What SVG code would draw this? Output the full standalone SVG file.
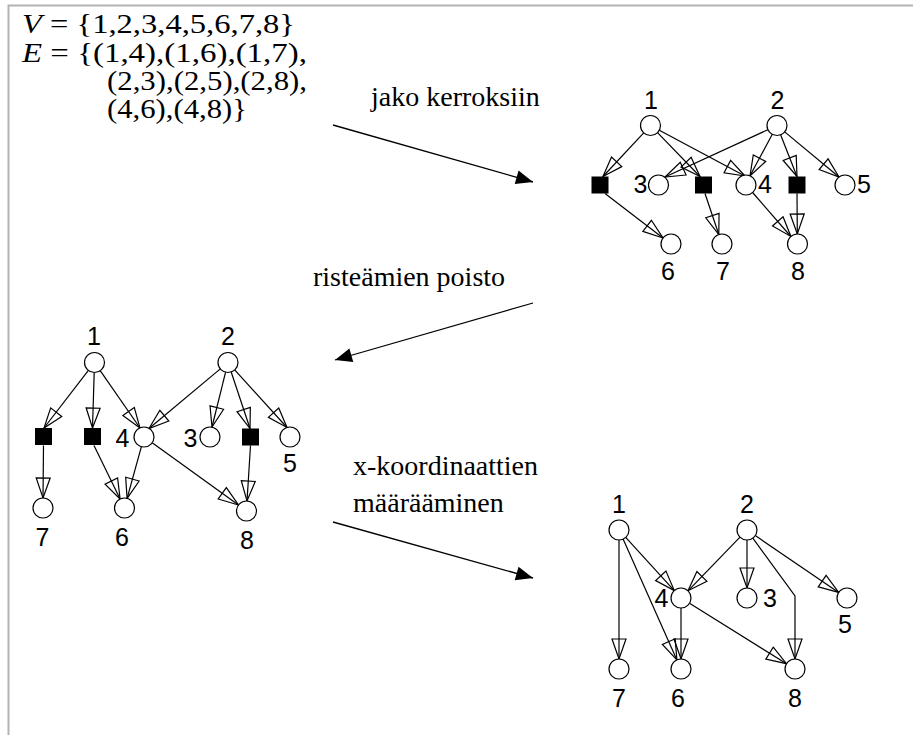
<svg xmlns="http://www.w3.org/2000/svg" width="913" height="735" viewBox="0 0 913 735">
<style>
.bg{fill:#ffffff}
.frame{stroke:#b4b4b4;stroke-width:2;fill:none}
.n{fill:#ffffff;stroke:#000;stroke-width:1.2}
.d{fill:#000}
.lbl{font-family:"Liberation Sans",Arial,sans-serif;font-size:25px;fill:#000;text-anchor:middle}
.ser{font-family:"Liberation Serif","Times New Roman",serif;font-size:28px;fill:#000}
.e{stroke:#000;stroke-width:1.2;fill:none;marker-end:url(#open)}
.big{stroke:#000;stroke-width:1.3;fill:none;marker-end:url(#solid)}
</style>
<defs>
<marker id="open" markerUnits="userSpaceOnUse" viewBox="-1 -1 23 16" markerWidth="23" markerHeight="16" refX="20" refY="7" orient="auto" overflow="visible">
<path d="M0,0 L20,7 L0,14 Z" fill="none" stroke="#000" stroke-width="1.2"/>
</marker>
<marker id="solid" markerUnits="userSpaceOnUse" viewBox="-1 -1 20 16" markerWidth="20" markerHeight="16" refX="17" refY="7" orient="auto" overflow="visible">
<path d="M0,0 L17,7 L0,14 Z" fill="#000"/>
</marker>
</defs>
<rect class="bg" x="0" y="0" width="913" height="735"/>
<path class="frame" d="M8.5,735 L8.5,5.5 L913,5.5"/>

<g id="definitions">
<text class="ser" x="22" y="33" textLength="273" lengthAdjust="spacingAndGlyphs"><tspan font-style="italic">V</tspan> = {1,2,3,4,5,6,7,8}</text>
<text class="ser" x="22" y="62" textLength="285" lengthAdjust="spacingAndGlyphs"><tspan font-style="italic">E</tspan> = {(1,4),(1,6),(1,7),</text>
<text class="ser" x="107" y="90" textLength="200" lengthAdjust="spacingAndGlyphs">(2,3),(2,5),(2,8),</text>
<text class="ser" x="107" y="118" textLength="140" lengthAdjust="spacingAndGlyphs">(4,6),(4,8)}</text>
</g>

<g id="step-labels">
<text class="ser" x="371" y="106">jako kerroksiin</text>
<text class="ser" x="313" y="286">risteämien poisto</text>
<text class="ser" x="353" y="475">x-koordinaattien</text>
<text class="ser" x="353" y="512">määrääminen</text>
</g>

<g id="connectors">
<!-- big step arrows -->
<line class="big" x1="333" y1="125" x2="533" y2="182"/>
<line class="big" x1="533" y1="303" x2="335" y2="360"/>
<line class="big" x1="333" y1="522" x2="533" y2="578"/>

<!-- graph 1 -->
<line class="e" x1="643.7" y1="132.8" x2="603" y2="176.5"/>
<line class="e" x1="657.5" y1="132.7" x2="700" y2="176.5"/>
<line class="e" x1="659.3" y1="130.2" x2="745" y2="176"/>
<line class="e" x1="767.9" y1="129.7" x2="665" y2="177"/>
<line class="e" x1="772.3" y1="134.3" x2="750" y2="175.8"/>
<line class="e" x1="780.6" y1="134.8" x2="797" y2="176.5"/>
<line class="e" x1="784.7" y1="131.9" x2="839" y2="177"/>
<line class="e" x1="605" y1="193.5" x2="663" y2="238"/>
<line class="e" x1="705" y1="193.5" x2="718.8" y2="234.5"/>
<line class="e" x1="752.6" y1="192.5" x2="790.9" y2="236.5"/>
<line class="e" x1="797" y1="193.5" x2="797.3" y2="234"/>

<!-- graph 2 -->
<line class="e" x1="88.4" y1="370.4" x2="44" y2="428"/>
<line class="e" x1="94.2" y1="372.5" x2="92.5" y2="428"/>
<line class="e" x1="100.2" y1="370.7" x2="140" y2="428"/>
<line class="e" x1="220.3" y1="368.9" x2="149" y2="428.5"/>
<line class="e" x1="225.6" y1="372.2" x2="212" y2="427"/>
<line class="e" x1="231.2" y1="372" x2="250" y2="428.5"/>
<line class="e" x1="234.7" y1="369.9" x2="287" y2="427.5"/>
<line class="e" x1="43.5" y1="445.5" x2="43" y2="498"/>
<line class="e" x1="94" y1="445.5" x2="120.1" y2="499"/>
<line class="e" x1="141.4" y1="446.6" x2="127.1" y2="498.4"/>
<line class="e" x1="152.2" y1="442.8" x2="238.5" y2="505"/>
<line class="e" x1="250.5" y1="445.5" x2="247" y2="501"/>

<!-- graph 3 -->
<line class="e" x1="619" y1="540" x2="619" y2="659"/>
<line class="e" x1="623.1" y1="539.1" x2="676.9" y2="659.9"/>
<line class="e" x1="625.7" y1="537.4" x2="674.3" y2="590.6"/>
<line class="e" x1="740" y1="537.2" x2="688" y2="590.8"/>
<line class="e" x1="747" y1="540" x2="747" y2="588"/>
<polyline class="e" points="752.8,538.2 795,596 795,659"/>
<line class="e" x1="755.3" y1="535.6" x2="838.7" y2="592.4"/>
<line class="e" x1="681" y1="608" x2="681" y2="659"/>
<line class="e" x1="689.5" y1="603.3" x2="786.5" y2="663.7"/>
</g>

<!-- graph 1 nodes -->
<g id="g1-n1"><circle class="n" cx="650.5" cy="125.5" r="10"/><text class="lbl" x="651" y="109">1</text></g>
<g id="g1-n2"><circle class="n" cx="777" cy="125.5" r="10"/><text class="lbl" x="777.5" y="109">2</text></g>
<g id="g1-d1"><rect class="d" x="591.5" y="176.5" width="17" height="17"/></g>
<g id="g1-n3"><circle class="n" cx="658.5" cy="185" r="10"/><text class="lbl" x="640.5" y="193">3</text></g>
<g id="g1-d2"><rect class="d" x="695" y="176.5" width="17" height="17"/></g>
<g id="g1-n4"><circle class="n" cx="746" cy="185" r="10"/><text class="lbl" x="765" y="193">4</text></g>
<g id="g1-d3"><rect class="d" x="788.5" y="176.5" width="17" height="17"/></g>
<g id="g1-n5"><circle class="n" cx="845" cy="185" r="10"/><text class="lbl" x="864" y="193">5</text></g>
<g id="g1-n6"><circle class="n" cx="671" cy="244" r="10"/><text class="lbl" x="668" y="280">6</text></g>
<g id="g1-n7"><circle class="n" cx="722" cy="244" r="10"/><text class="lbl" x="723" y="280">7</text></g>
<g id="g1-n8"><circle class="n" cx="797.5" cy="244" r="10"/><text class="lbl" x="798" y="280">8</text></g>

<!-- graph 2 nodes -->
<g id="g2-n1"><circle class="n" cx="94.5" cy="362.5" r="10"/><text class="lbl" x="94" y="345">1</text></g>
<g id="g2-n2"><circle class="n" cx="228" cy="362.5" r="10"/><text class="lbl" x="228" y="345">2</text></g>
<g id="g2-da"><rect class="d" x="35" y="428" width="17" height="17"/></g>
<g id="g2-db"><rect class="d" x="84" y="428" width="17" height="17"/></g>
<g id="g2-n4"><circle class="n" cx="144" cy="437" r="10"/><text class="lbl" x="122.5" y="447">4</text></g>
<g id="g2-n3"><circle class="n" cx="210" cy="437" r="10"/><text class="lbl" x="190.5" y="447">3</text></g>
<g id="g2-dc"><rect class="d" x="242" y="428.5" width="17" height="17"/></g>
<g id="g2-n5"><circle class="n" cx="290" cy="437" r="10"/><text class="lbl" x="290" y="472">5</text></g>
<g id="g2-n7"><circle class="n" cx="43" cy="508" r="10"/><text class="lbl" x="42.5" y="546">7</text></g>
<g id="g2-n6"><circle class="n" cx="124.5" cy="508" r="10"/><text class="lbl" x="122" y="546">6</text></g>
<g id="g2-n8"><circle class="n" cx="246.5" cy="511" r="10"/><text class="lbl" x="247" y="549">8</text></g>

<!-- graph 3 nodes -->
<g id="g3-n1"><circle class="n" cx="619" cy="530" r="10"/><text class="lbl" x="619" y="512.5">1</text></g>
<g id="g3-n2"><circle class="n" cx="747" cy="530" r="10"/><text class="lbl" x="747" y="512.5">2</text></g>
<g id="g3-n4"><circle class="n" cx="681" cy="598" r="10"/><text class="lbl" x="661.5" y="607">4</text></g>
<g id="g3-n3"><circle class="n" cx="747" cy="598" r="10"/><text class="lbl" x="770" y="607">3</text></g>
<g id="g3-n5"><circle class="n" cx="847" cy="598" r="10"/><text class="lbl" x="845" y="633">5</text></g>
<g id="g3-n7"><circle class="n" cx="619" cy="669" r="10"/><text class="lbl" x="619" y="707">7</text></g>
<g id="g3-n6"><circle class="n" cx="681" cy="669" r="10"/><text class="lbl" x="678" y="707">6</text></g>
<g id="g3-n8"><circle class="n" cx="795" cy="669" r="10"/><text class="lbl" x="795" y="707">8</text></g>
</svg>
